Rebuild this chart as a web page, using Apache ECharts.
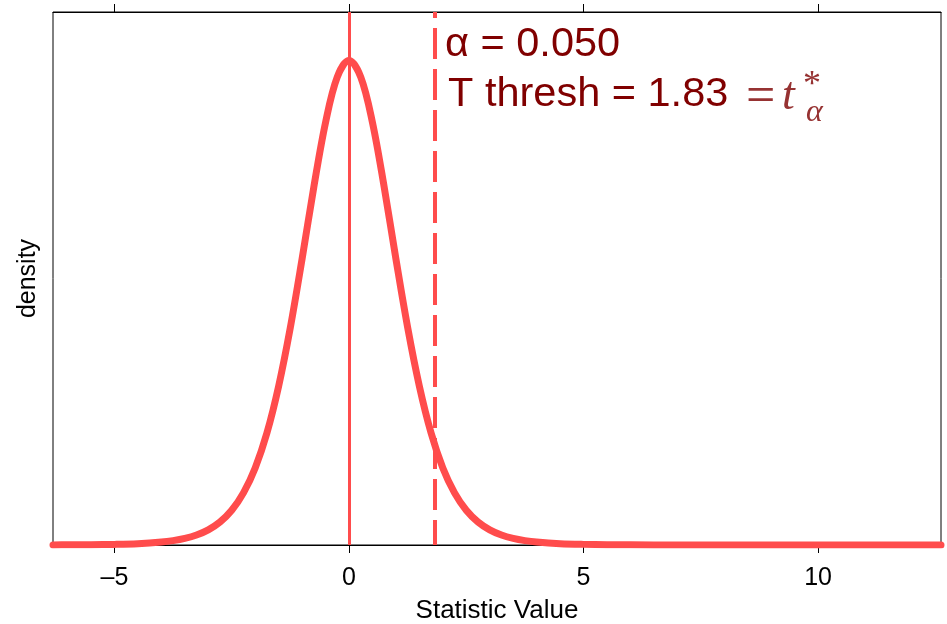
<!DOCTYPE html>
<html>
<head>
<meta charset="utf-8">
<script src="https://cdn.jsdelivr.net/npm/echarts@6/dist/echarts.min.js"></script>
<style>
html,body{margin:0;padding:0;background:#fff;}
#chart{width:947px;height:624px;}
</style>
</head>
<body>
<div id="chart"></div>
<script>
// Statistic values (x) and density (y)
var statX = [-6.31, -6, -5.5, -5, -4.5, -4, -3.75, -3.5, -3.25, -3, -2.75, -2.5, -2.25, -2, -1.75, -1.5, -1.25, -1, -0.75, -0.5, -0.25, 0,
             0.25, 0.5, 0.75, 1, 1.25, 1.5, 1.75, 2, 2.25, 2.5, 2.75, 3, 3.25, 3.5, 3.75, 4, 4.5, 5, 5.5, 6, 7, 8, 9, 10, 11, 12.62];
var density = [0.00008, 0.00012, 0.00025, 0.0005, 0.00107, 0.00235, 0.00351, 0.00529, 0.0080, 0.01213, 0.0184, 0.0278, 0.0417, 0.0617, 0.0897, 0.1272, 0.1743, 0.2291, 0.2866, 0.3384, 0.3748, 0.3880,
               0.3748, 0.3384, 0.2866, 0.2291, 0.1743, 0.1272, 0.0897, 0.0617, 0.0417, 0.0278, 0.0184, 0.01213, 0.0080, 0.00529, 0.00351, 0.00235, 0.00107, 0.0005, 0.00025, 0.00012, 0.00004, 0.00001, 0.000004, 0.000002, 0.000001, 0];
var meanLine = 0;
var threshold = 1.83;
var tickValues = [-5, 0, 5, 10];
var xRange = [-6.31, 12.62];
var yRange = [0, 0.4268];

var curveData = statX.map(function (x, i) { return [x, density[i]]; });
var red = '#ff4c4c';
var dark = '#800000';
var mathCol = '#963232';

var chart = echarts.init(document.getElementById('chart'));
chart.setOption({
  animation: false,
  backgroundColor: '#fff',
  grid: {left: 53, right: 6, top: 12, bottom: 79, containLabel: false, outerBoundsMode: 'none',
         show: true, borderColor: '#000', borderWidth: 1, backgroundColor: 'transparent'},
  xAxis: [{
    type: 'value', min: xRange[0], max: xRange[1], position: 'bottom',
    name: 'Statistic Value', nameLocation: 'middle', nameGap: 53,
    nameTextStyle: {fontFamily: 'Liberation Sans', fontSize: 26, color: '#000'},
    axisLine: {show: true, onZero: false, lineStyle: {color: '#000', width: 1}},
    axisTick: {show: true, inside: false, length: 8, customValues: tickValues, lineStyle: {color: '#000'}},
    axisLabel: {show: true, customValues: tickValues, margin: 21, fontFamily: 'Liberation Sans', fontSize: 25, color: '#000',
      formatter: function (v) { return v < 0 ? '\u2013' + Math.abs(v) : String(v); }},
    splitLine: {show: false}
  }, {
    type: 'value', min: xRange[0], max: xRange[1], position: 'top',
    axisLine: {show: true, onZero: false, lineStyle: {color: '#000', width: 1}},
    axisTick: {show: true, inside: false, length: 8, customValues: tickValues, lineStyle: {color: '#000'}},
    axisLabel: {show: false},
    splitLine: {show: false}
  }],
  yAxis: {
    type: 'value', min: yRange[0], max: yRange[1],
    name: 'density', nameLocation: 'middle', nameGap: 12, nameRotate: 90,
    nameTextStyle: {fontFamily: 'Liberation Sans', fontSize: 25, color: '#000'},
    axisLine: {show: true, lineStyle: {color: '#000'}},
    axisTick: {show: false}, axisLabel: {show: false}, splitLine: {show: false}
  },
  series: [{
    type: 'line', data: curveData, xAxisIndex: 0, smooth: 0.35,
    showSymbol: false, symbol: 'none', clip: true,
    lineStyle: {color: red, width: 7, cap: 'round', join: 'round'},
    markLine: {
      silent: true, symbol: ['none', 'none'], label: {show: false},
      data: [
        {xAxis: meanLine, lineStyle: {color: red, width: 3, type: 'solid'}},
        {xAxis: threshold, lineStyle: {color: red, width: 4, type: [31, 10], dashOffset: 6}}
      ]
    },
    z: 3
  }],
  graphic: [
    {type: 'text', left: 445, top: 24, z: 10, style: {text: '\u03b1 = 0.050', font: '41.5px "Liberation Sans"', fill: dark}},
    {type: 'text', left: 448, top: 74, z: 10, style: {text: 'T thresh = 1.83', font: '41.5px "Liberation Sans"', fill: dark}},
    {type: 'text', left: 746, top: 72, z: 10, style: {text: '=', font: '52px "Liberation Serif"', fill: mathCol}},
    {type: 'text', left: 782, top: 74, z: 10, style: {text: 't', font: 'italic 46px "Liberation Serif"', fill: mathCol}},
    {type: 'text', left: 803, top: 68, z: 10, style: {text: '*', font: '36px "Liberation Serif"', fill: mathCol}},
    {type: 'text', left: 806, top: 97, z: 10, style: {text: '\u03b1', font: 'italic 32px "Liberation Serif"', fill: mathCol}}
  ]
});
</script>
</body>
</html>
